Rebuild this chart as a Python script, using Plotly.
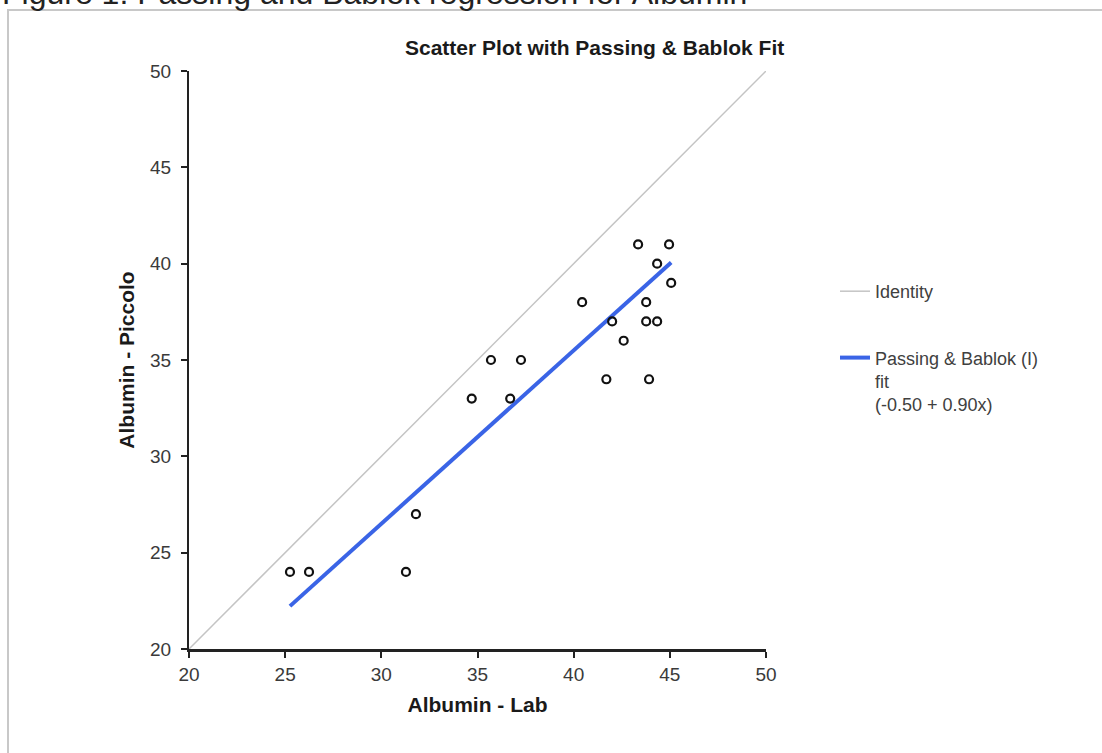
import plotly.graph_objects as go

# Data
lab = [25.25, 26.24, 31.28, 31.8, 34.7, 36.7, 35.7, 37.26, 40.44, 42.0,
       42.6, 41.7, 43.35, 44.96, 44.34, 45.07, 43.77, 43.77, 44.34, 43.92]
piccolo = [24, 24, 24, 27, 33, 33, 35, 35, 38, 37,
           36, 34, 41, 41, 40, 39, 38, 37, 37, 34]
identity_range = [20, 50]
fit_intercept = -0.50
fit_slope = 0.90
tick_vals = [20, 25, 30, 35, 40, 45, 50]

fit_x = [min(lab), max(lab)]
fit_y = [fit_intercept + fit_slope * v for v in fit_x]

W, H = 1102, 753
ML, MR, MT, MB = 189, 336, 71, 104
PW, PH = W - ML - MR, H - MT - MB

def px(xp):
    return (xp - ML) / PW

def py(yp):
    return (H - MB - yp) / PH

fig = go.Figure()
fig.add_trace(go.Scatter(
    x=identity_range, y=identity_range, mode="lines",
    line=dict(color="#c4c4c4", width=1.5),
    name="Identity", legendgroup="a", hoverinfo="skip"))
fig.add_trace(go.Scatter(
    x=fit_x, y=fit_y, mode="lines",
    line=dict(color="#3a64e6", width=4),
    name="Passing & Bablok (I)<br>fit<br>(%.2f + %.2fx)" % (fit_intercept, fit_slope),
    legendgroup="b"))
fig.add_trace(go.Scatter(
    x=lab, y=piccolo, mode="markers",
    marker=dict(symbol="circle-open", size=8, color="#111111",
                line=dict(width=2.2, color="#111111")),
    showlegend=False, name="Data"))

axis_common = dict(
    range=[20, 50], tickvals=tick_vals, showgrid=False, zeroline=False,
    ticks="outside", ticklen=6, tickwidth=1.5, tickcolor="#222",
    showline=True, linecolor="#222",
    tickfont=dict(family="Arial", size=19, color="#3a3a3a"),
)

fig.update_layout(
    width=W, height=H,
    margin=dict(l=ML, r=MR, t=MT, b=MB, autoexpand=False),
    paper_bgcolor="white", plot_bgcolor="white",
    xaxis=dict(**axis_common, linewidth=3,
               title=dict(text="<b>Albumin - Lab</b>", standoff=14,
                          font=dict(family="Arial", size=21, color="#1a1a1a"))),
    yaxis=dict(**axis_common, linewidth=2, ticklabelstandoff=6,
               title=dict(text="<b>Albumin - Piccolo</b>", standoff=10,
                          font=dict(family="Arial", size=21, color="#1a1a1a"))),
    showlegend=True,
    legend=dict(x=px(835), y=py(273), xanchor="left", yanchor="top",
                valign="top", tracegroupgap=40, bgcolor="rgba(0,0,0,0)",
                font=dict(family="Arial", size=18, color="#404040")),
    shapes=[dict(type="rect", xref="paper", yref="paper",
                 x0=px(8), x1=px(1115), y0=py(770), y1=py(10),
                 line=dict(color="#c8c8c8", width=2), layer="below")],
    annotations=[
        dict(text="<b>Scatter Plot with Passing & Bablok Fit</b>",
             xref="paper", yref="paper", x=px(594), y=py(48),
             xanchor="center", yanchor="middle", showarrow=False,
             font=dict(family="Arial", size=21, color="#1a1a1a")),
        dict(text="Figure 1: Passing and Bablok regression for Albumin",
             xref="paper", yref="paper", x=px(0), y=py(13),
             xanchor="left", yanchor="bottom", showarrow=False,
             font=dict(family="Arial", size=32, color="#222")),
    ],
)

fig.write_html("out.html", config={"displayModeBar": False},
               post_script="document.body.style.margin='0';")
